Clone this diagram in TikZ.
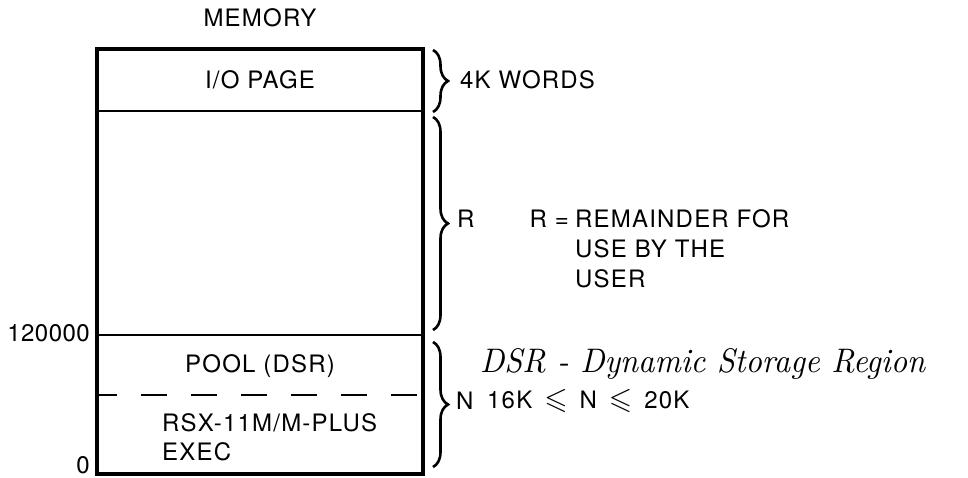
\documentclass[tikz,border=0pt]{standalone}
\usepackage{amssymb}
\usepackage{fontspec}
\setmainfont[LetterSpace=5]{TeX Gyre Heros}
\usetikzlibrary{decorations.pathreplacing}
\tikzset{
  memtext/.style={font=\fontsize{24}{28}\selectfont, inner sep=0pt},
  membrace/.style={decorate, decoration={brace, amplitude=15pt}, line width=2.6pt}
}
\newcommand{\memleq}{\hspace{12pt}\scalebox{1.25}{$\leqslant$}\hspace{12pt}}
\begin{document}
\begin{tikzpicture}[x=1pt,y=1pt]
\useasboundingbox (0,0) rectangle (968,478);
\draw[line width=2pt] (97,367)--(423,367);
\draw[line width=2pt] (97,143)--(423,143);
\draw[line width=2pt, dash pattern=on 26pt off 24pt, dash phase=6pt] (97,83)--(423,83);
\draw[line width=3.8pt] (97,4) rectangle (423,429);
\draw[membrace] (433,428)--(433,366);
\draw[membrace] (433,361)--(433,148);
\draw[membrace] (433,136)--(433,11);
\node[memtext] (memory) at (260,460) {MEMORY};
\node[memtext] (iopage) at (260,398) {I/O PAGE};
\node[memtext, anchor=west] (words) at (460,398) {4K WORDS};
\node[memtext, anchor=west] (rlabel) at (457,259) {R};
\node[memtext, anchor=east] (requals) at (569,259) {R =};
\node[memtext, anchor=west] (rem) at (575,259) {REMAINDER FOR};
\node[memtext, anchor=west] (useby) at (575,229) {USE BY THE};
\node[memtext, anchor=west] (user) at (575,199) {USER};
\node[memtext, anchor=east] (addr) at (90,145) {\addfontfeatures{LetterSpace=2}120000};
\node[memtext, anchor=east] (zero) at (90,13) {0};
\node[memtext] (pool) at (260,112) {POOL (DSR)};
\node[memtext, anchor=west] (exec) at (162,55) {RSX-11M/M-PLUS};
\node[memtext, anchor=west] (exec2) at (162,26) {EXEC};
\node[memtext, anchor=west] (nlabel) at (456,77) {N};
\node[memtext, anchor=west] (nrange) at (487,77) {16K\memleq N\memleq 20K};
\node[anchor=west, inner sep=0pt] (dsr) at (480,114)
  {\resizebox{445pt}{24pt}{\fontspec{Latin Modern Roman}[LetterSpace=0]\itshape DSR - Dynamic Storage Region}};
\end{tikzpicture}
\end{document}
